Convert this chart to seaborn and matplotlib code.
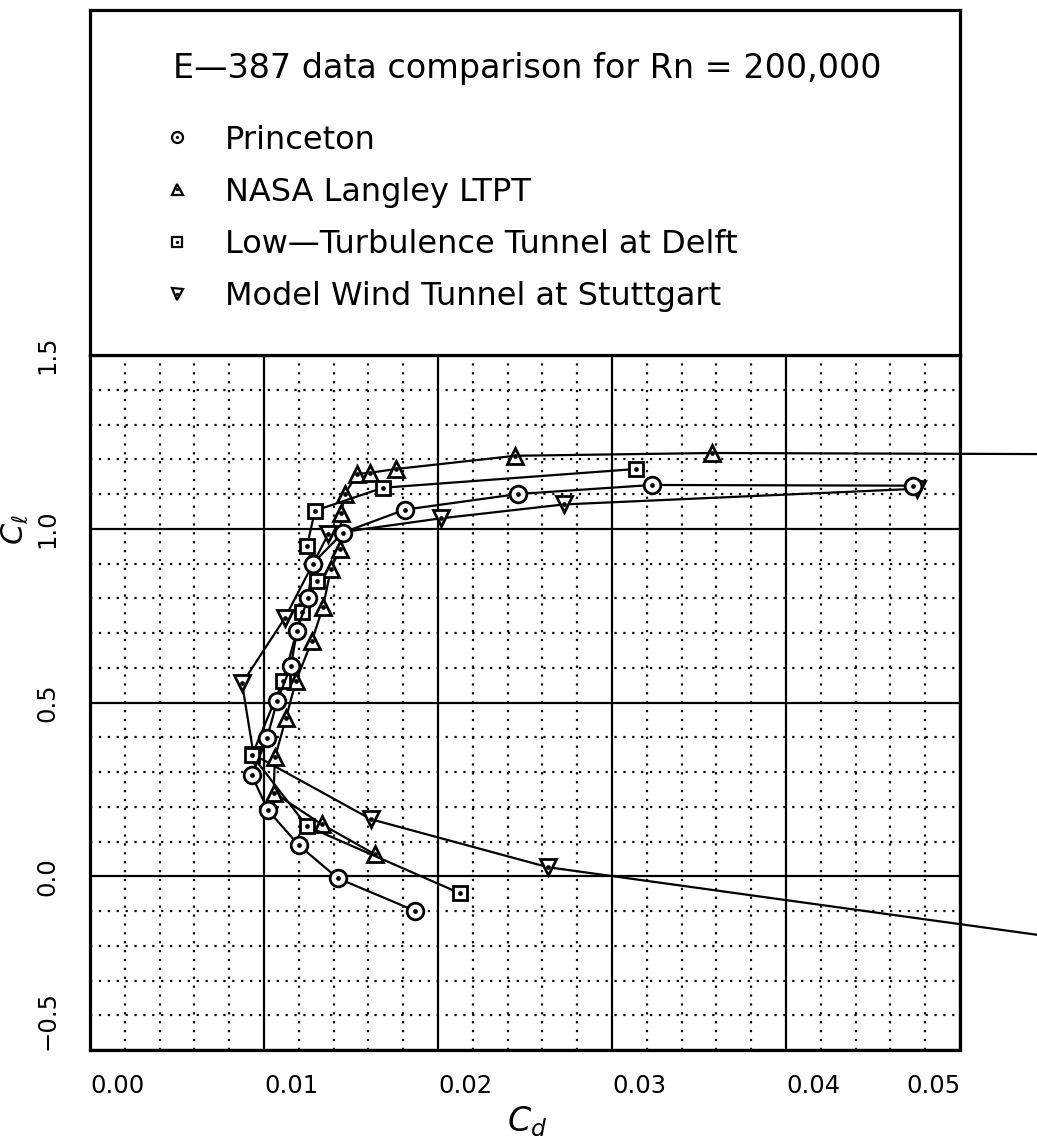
import numpy as np
import pandas as pd
import matplotlib
matplotlib.use("Agg")
import matplotlib.pyplot as plt
import seaborn as sns
from matplotlib.lines import Line2D
from matplotlib.ticker import MultipleLocator

# ---------------- data ----------------
prin_cd = [0.0187, 0.01425, 0.0120, 0.01023, 0.0093, 0.01017, 0.01075, 0.01155,
           0.0119, 0.01253, 0.0128, 0.01454, 0.0181, 0.0246, 0.0323, 0.0473]
prin_cl = [-0.100, -0.006, 0.089, 0.190, 0.290, 0.397, 0.503, 0.606,
           0.707, 0.802, 0.900, 0.989, 1.055, 1.100, 1.126, 1.124]

nasa_cd = [0.01638, 0.01333, 0.01055, 0.01063, 0.01126, 0.01184, 0.01276, 0.01339,
           0.01385, 0.01437, 0.01443, 0.01466, 0.01534, 0.01609, 0.01759, 0.02445,
           0.03575, 0.0600]
nasa_cl = [0.063, 0.149, 0.241, 0.342, 0.454, 0.563, 0.678, 0.775,
           0.885, 0.943, 1.045, 1.100, 1.158, 1.161, 1.172, 1.210,
           1.218, 1.214]

delft_cd = [0.02126, 0.01247, 0.00931, 0.0111, 0.01218, 0.01305, 0.01247, 0.01293,
            0.01684, 0.0314]
delft_cl = [-0.049, 0.144, 0.348, 0.563, 0.759, 0.851, 0.950, 1.052,
            1.118, 1.172]

stutt_cd = [0.0600, 0.02632, 0.01615, 0.0094, 0.00874, 0.01121, 0.0137, 0.02017,
            0.02724, 0.0475]
stutt_cl = [-0.207, 0.026, 0.164, 0.350, 0.555, 0.744, 0.985, 1.030,
            1.070, 1.115]

series_names = ["Princeton", "NASA Langley LTPT",
                "Low\u2014Turbulence Tunnel at Delft",
                "Model Wind Tunnel at Stuttgart"]
xticks = [0.00, 0.01, 0.02, 0.03, 0.04, 0.05]
xtick_labels = ["0.00", "0.01", "0.02", "0.03", "0.04", "0.05"]
yticks = [-0.5, 0.0, 0.5, 1.0, 1.5]
ytick_labels = ["\u22120.5", "0.0", "0.5", "1.0", "1.5"]
title = "E\u2014387 data comparison for Rn = 200,000"

# ---------------- figure ----------------
sns.set_theme(style="white")
plt.rcParams['font.family'] = ['DejaVu Sans']
plt.rcParams['mathtext.fontset'] = 'dejavusans'
for k in ['text.color', 'axes.labelcolor', 'xtick.color', 'ytick.color']:
    plt.rcParams[k] = 'black'

W, H = 1037, 1145
fig = plt.figure(figsize=(W / 100, H / 100), dpi=100)
fig.patch.set_facecolor('white')


def px_axes(x0, y0, x1, y1):
    return fig.add_axes([x0 / W, 1 - y1 / H, (x1 - x0) / W, (y1 - y0) / H])


ax = px_axes(90, 355, 960, 1050)
axh = px_axes(90, 10, 960, 355)

styles = {
    "Princeton": ('o', 12),
    "NASA Langley LTPT": ('^', 12),
    "Low\u2014Turbulence Tunnel at Delft": ('s', 10.5),
    "Model Wind Tunnel at Stuttgart": ('v', 12),
}
data = {
    "Princeton": (prin_cd, prin_cl),
    "NASA Langley LTPT": (nasa_cd, nasa_cl),
    "Low\u2014Turbulence Tunnel at Delft": (delft_cd, delft_cl),
    "Model Wind Tunnel at Stuttgart": (stutt_cd, stutt_cl),
}
draw_order = ["Model Wind Tunnel at Stuttgart", "NASA Langley LTPT",
              "Low\u2014Turbulence Tunnel at Delft", "Princeton"]

for name in draw_order:
    cd, cl = data[name]
    m, ms = styles[name]
    df = pd.DataFrame({'cd': cd, 'cl': cl})
    sns.lineplot(data=df, x='cd', y='cl', sort=False, estimator=None, ax=ax,
                 color='black', lw=1.6, marker=m, ms=ms, mfc='white',
                 mec='black', mew=2.0, clip_on=False, zorder=5, legend=False)
    sns.lineplot(data=df, x='cd', y='cl', sort=False, estimator=None, ax=ax,
                 color='black', linestyle='none', marker='o', ms=3.4, mew=0,
                 clip_on=False, zorder=5, legend=False)

ax.set_xlim(0, 0.05)
ax.set_ylim(-0.5, 1.5)
ax.xaxis.set_minor_locator(MultipleLocator(0.002))
ax.yaxis.set_minor_locator(MultipleLocator(0.1))
ax.set_xticks(xticks, xtick_labels, fontsize=17.5)
ax.set_yticks(yticks, ytick_labels, fontsize=17.5, rotation=90, va='center')
ax.grid(which='major', color='black', lw=1.6, ls='-')
ax.grid(which='minor', color='black', lw=1.6, ls=(0, (1, 3.0)))
ax.set_axisbelow(True)
ax.tick_params(which='major', length=0)
ax.tick_params(which='minor', direction='in', length=5, width=1.2, color='black')
ax.tick_params(axis='x', which='major', pad=17)
ax.tick_params(axis='y', which='major', pad=22)
for i, t in enumerate(ax.get_xticklabels()):
    t.set_ha('right' if i == len(xtick_labels) - 1 else 'left')
ylabs = ax.get_yticklabels()
ylabs[0].set_va('bottom')
ax.set_xlabel('')
ax.set_ylabel('')
for sp in ax.spines.values():
    sp.set_visible(True)
    sp.set_color('black')
    sp.set_linewidth(2.3)

# header box
axh.set_xlim(0, 1)
axh.set_ylim(0, 1)
axh.set_xticks([])
axh.set_yticks([])
for sp in axh.spines.values():
    sp.set_visible(True)
    sp.set_color('black')
    sp.set_linewidth(2.3)
axh.text(0.095, 0.829, title, fontsize=24, ha='left', va='center',
         transform=axh.transAxes)

handles = []
for name in series_names:
    m, ms = styles[name]
    h1 = Line2D([], [], ls='none', marker=m, ms=ms * 0.66, mfc='white',
                mec='black', mew=1.6)
    h2 = Line2D([], [], ls='none', marker='o', ms=2.4, color='black', mew=0)
    handles.append((h1, h2))
axh.legend(handles, series_names, loc='upper left', bbox_to_anchor=(0.0816, 0.668),
           frameon=False, fontsize=23, handlelength=1.0, handletextpad=1.0,
           labelspacing=0.66, borderpad=0, borderaxespad=0)

fig.text(15 / W, 1 - 530 / H, r'$C_\ell$', rotation=90, fontsize=22,
         ha='center', va='center')
fig.text(527 / W, 1 - 1122 / H, r'$C_d$', fontsize=24, ha='center', va='center')

fig.savefig('out.png', dpi=100, facecolor='white')
